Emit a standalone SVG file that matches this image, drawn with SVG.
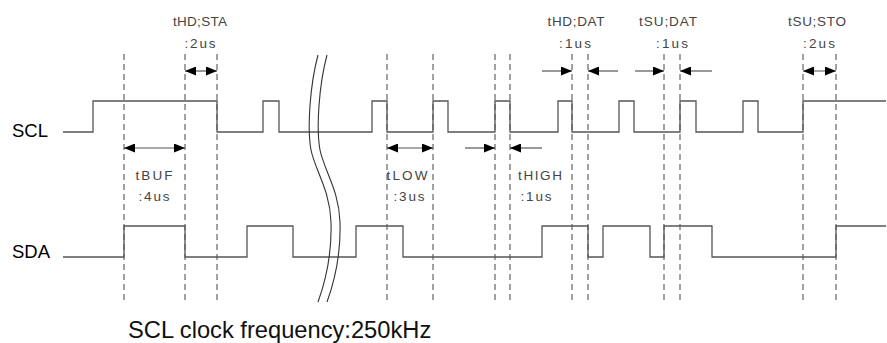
<svg xmlns="http://www.w3.org/2000/svg" width="887" height="343" viewBox="0 0 887 343">
<style>
.sig{fill:none;stroke:#555;stroke-width:1.3}
.dash{stroke:#444;stroke-width:1;stroke-dasharray:6,4}
.arr{stroke:#555;stroke-width:1.2;fill:none}
.brk{fill:none;stroke:#333;stroke-width:1.1}
.lbl{font-family:"Liberation Sans",Arial,sans-serif;font-size:13.5px;fill:#444;text-anchor:middle}
.name{font-family:"Liberation Sans",Arial,sans-serif;font-size:18.5px;fill:#000}
.cap{font-family:"Liberation Sans",Arial,sans-serif;font-size:23.7px;fill:#111}
</style>
<defs>
<marker id="ah" viewBox="0 0 11 9" refX="11" refY="4.5" markerWidth="11" markerHeight="9" orient="auto-start-reverse" markerUnits="userSpaceOnUse">
<path d="M0,0 L11,4.5 L0,9 z" fill="#000"/>
</marker>
</defs>
<rect width="887" height="343" fill="#fff"/>
<g id="guides">
<line class="dash" x1="124" y1="54" x2="124" y2="302"/>
<line class="dash" x1="185" y1="54" x2="185" y2="302"/>
<line class="dash" x1="217" y1="54" x2="217" y2="302"/>
<line class="dash" x1="387" y1="54" x2="387" y2="302"/>
<line class="dash" x1="433" y1="54" x2="433" y2="302"/>
<line class="dash" x1="495" y1="54" x2="495" y2="302"/>
<line class="dash" x1="510" y1="54" x2="510" y2="302"/>
<line class="dash" x1="572" y1="54" x2="572" y2="302"/>
<line class="dash" x1="588" y1="54" x2="588" y2="302"/>
<line class="dash" x1="664" y1="54" x2="664" y2="302"/>
<line class="dash" x1="680" y1="54" x2="680" y2="302"/>
<line class="dash" x1="803" y1="54" x2="803" y2="302"/>
<line class="dash" x1="836" y1="54" x2="836" y2="302"/>
</g>
<g id="scl">
<text class="name" x="12" y="137">SCL</text>
<polyline class="sig" points="63,132 93,132 93,101 217,101 217,132 263,132 263,101 279,101 279,132 372,132 372,101 387,101 387,132 433,132 433,101 448,101 448,132 495,132 495,101 510,101 510,132 558,132 558,101 572,101 572,132 619,132 619,101 634,101 634,132 680,132 680,101 696,101 696,132 743,132 743,101 758,101 758,132 803,132 803,101 886,101"/>
</g>
<g id="sda">
<text class="name" x="12" y="258">SDA</text>
<polyline class="sig" points="63,257 124,257 124,226 185,226 185,257 247,257 247,226 293,226 293,257 356,257 356,226 403,226 403,257 542,257 542,226 588,226 588,257 603,257 603,226 650,226 650,257 664,257 664,226 712,226 712,257 836,257 836,226 886,226"/>
</g>
<g id="break">
<path class="brk" d="M318,55 C310,85 307,128 311,150 C315,170 330,190 331,222 C332,255 326,280 318,302"/>
<path class="brk" d="M327,55 C319,85 316,128 320,150 C324,170 339,190 340,222 C341,255 335,280 327,302"/>
</g>
<g id="connectors">
<line class="arr" x1="185" y1="71" x2="217" y2="71" marker-start="url(#ah)" marker-end="url(#ah)"/>
<line class="arr" x1="124" y1="148" x2="185" y2="148" marker-start="url(#ah)" marker-end="url(#ah)"/>
<line class="arr" x1="387" y1="148" x2="433" y2="148" marker-start="url(#ah)" marker-end="url(#ah)"/>
<line class="arr" x1="465" y1="148" x2="495" y2="148" marker-end="url(#ah)"/>
<line class="arr" x1="542" y1="148" x2="510" y2="148" marker-end="url(#ah)"/>
<line class="arr" x1="542" y1="71" x2="572" y2="71" marker-end="url(#ah)"/>
<line class="arr" x1="618" y1="71" x2="588" y2="71" marker-end="url(#ah)"/>
<line class="arr" x1="635" y1="71" x2="664" y2="71" marker-end="url(#ah)"/>
<line class="arr" x1="712" y1="71" x2="680" y2="71" marker-end="url(#ah)"/>
<line class="arr" x1="803" y1="71" x2="836" y2="71" marker-start="url(#ah)" marker-end="url(#ah)"/>
</g>
<g id="labels">
<text class="lbl" x="200" y="25.5" textLength="54" lengthAdjust="spacing">tHD;STA</text>
<text class="lbl" x="200" y="47.5" textLength="31" lengthAdjust="spacing">:2us</text>
<text class="lbl" x="576" y="25.5" textLength="57" lengthAdjust="spacing">tHD;DAT</text>
<text class="lbl" x="575" y="47.5" textLength="32" lengthAdjust="spacing">:1us</text>
<text class="lbl" x="668" y="25.5" textLength="58" lengthAdjust="spacing">tSU;DAT</text>
<text class="lbl" x="672" y="47.5" textLength="32" lengthAdjust="spacing">:1us</text>
<text class="lbl" x="817" y="25.5" textLength="58" lengthAdjust="spacing">tSU;STO</text>
<text class="lbl" x="819" y="47.5" textLength="32" lengthAdjust="spacing">:2us</text>
<text class="lbl" x="154" y="180" textLength="37" lengthAdjust="spacing">tBUF</text>
<text class="lbl" x="154" y="201" textLength="31" lengthAdjust="spacing">:4us</text>
<text class="lbl" x="407" y="180" textLength="41" lengthAdjust="spacing">tLOW</text>
<text class="lbl" x="409" y="201" textLength="31" lengthAdjust="spacing">:3us</text>
<text class="lbl" x="540" y="180" textLength="44" lengthAdjust="spacing">tHIGH</text>
<text class="lbl" x="536" y="201" textLength="31" lengthAdjust="spacing">:1us</text>
</g>
<text class="cap" x="128" y="338">SCL clock frequency:250kHz</text>
</svg>
